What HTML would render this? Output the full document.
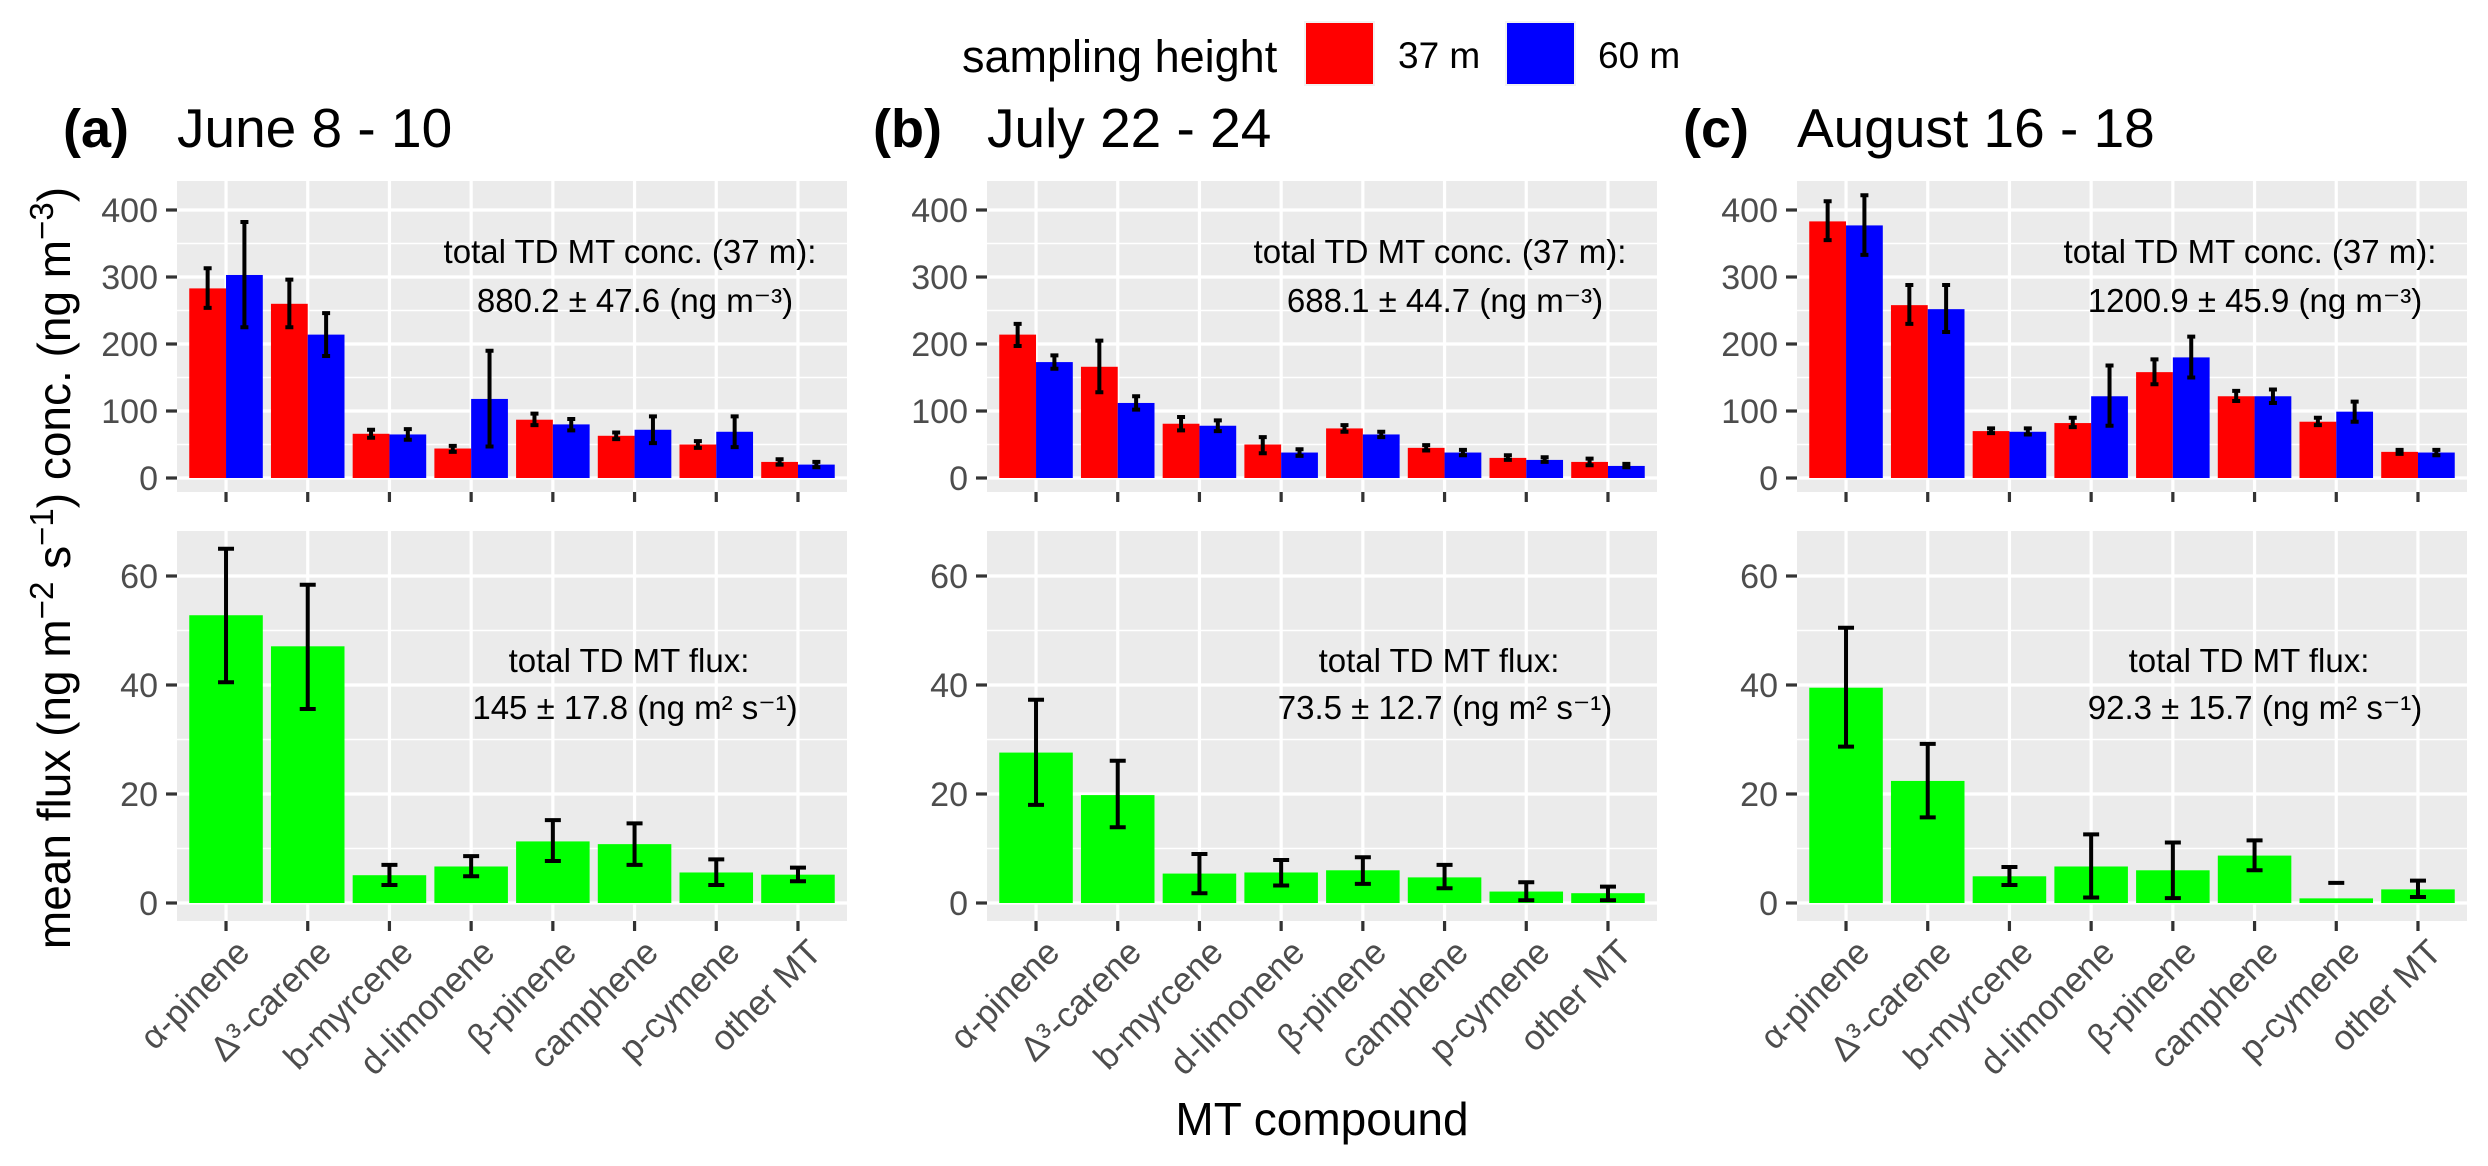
<!DOCTYPE html>
<html><head><meta charset="utf-8"><style>
html,body{margin:0;padding:0;background:#fff}
svg{display:block;font-family:"Liberation Sans",sans-serif}
</style></head><body>
<svg id="chart" width="2488" height="1166" viewBox="0 0 2488 1166" xmlns="http://www.w3.org/2000/svg">
<g id="legend">
<text x="962" y="72" font-size="45">sampling height</text>
<rect x="1305" y="22" width="69" height="63" fill="#FF0000" stroke="#F2F2F2" stroke-width="2"/>
<text x="1398" y="68" font-size="37">37 m</text>
<rect x="1506" y="22" width="69" height="63" fill="#0000FF" stroke="#F2F2F2" stroke-width="2"/>
<text x="1598" y="68" font-size="37">60 m</text>
</g>
<text transform="translate(70,568) rotate(-90)" text-anchor="middle" font-size="46">mean flux (ng m<tspan dy="-17" font-size="33">−2</tspan><tspan dy="17"> s</tspan><tspan dy="-17" font-size="33">−1</tspan><tspan dy="17">) conc. (ng m</tspan><tspan dy="-17" font-size="33">−3</tspan><tspan dy="17">)</tspan></text>
<text x="1322" y="1135" text-anchor="middle" font-size="46">MT compound</text>
</svg>
<script>
const categories = ["α-pinene","Δ³-carene","b-myrcene","d-limonene","β-pinene","camphene","p-cymene","other MT"];
const panelTags = ["(a)","(b)","(c)"];
const panelTitles = ["June 8 - 10","July 22 - 24","August 16 - 18"];
const concTotals = ["880.2 ± 47.6 (ng m⁻³)","688.1 ± 44.7 (ng m⁻³)","1200.9 ± 45.9 (ng m⁻³)"];
const fluxTotals = ["145 ± 17.8 (ng m² s⁻¹)","73.5 ± 12.7 (ng m² s⁻¹)","92.3 ± 15.7 (ng m² s⁻¹)"];
const concTicks = [0,100,200,300,400];
const fluxTicks = [0,20,40,60];
// concentration at 37 m [panel][category]
const conc37 = [[283,260,66,44,87,63,50,24],[214,166,81,50,74,45,30,24],[383,258,70,82,158,122,84,39]];
const conc37Lo = [[254,225,60,39,79,58,45,20],[197,128,71,37,69,41,27,19],[355,230,67,76,140,115,79,36]];
const conc37Hi = [[313,296,72,48,96,68,55,28],[230,205,91,61,79,49,34,29],[413,288,74,90,177,130,90,42]];
// concentration at 60 m
const conc60 = [[303,214,65,118,80,72,69,20],[173,112,78,38,65,38,27,18],[377,252,69,122,180,122,99,38]];
const conc60Lo = [[225,182,57,47,71,52,46,16],[163,102,70,33,61,34,24,16],[333,218,65,78,150,112,84,34]];
const conc60Hi = [[382,246,73,190,88,92,92,24],[183,122,86,43,69,42,31,21],[422,288,74,168,211,132,114,42]];
// flux
const flux = [[52.8,47.1,5.1,6.7,11.3,10.8,5.6,5.2],[27.6,19.8,5.4,5.6,6.0,4.7,2.1,1.8],[39.5,22.4,4.9,6.7,6.0,8.7,0.85,2.5]];
const fluxLo = [[40.5,35.6,3.3,4.9,7.7,7.0,3.3,4.0],[18.0,13.9,1.8,3.2,3.5,2.7,0.5,0.5],[28.7,15.7,3.3,1.0,0.9,6.0,3.7,1.1]];
const fluxHi = [[65.0,58.4,7.0,8.6,15.2,14.6,8.0,6.5],[37.3,26.1,9.0,7.9,8.4,7.0,3.8,3.0],[50.5,29.2,6.6,12.6,11.1,11.5,3.7,4.1]];

const NS = "http://www.w3.org/2000/svg";
const svg = document.getElementById('chart');
function mk(tag, attrs, parent, txt){
  const e = document.createElementNS(NS, tag);
  for (const k in attrs) e.setAttribute(k, attrs[k]);
  if (txt !== undefined) e.textContent = txt;
  (parent||svg).appendChild(e);
  return e;
}
const panelLefts = [177, 987, 1797];
const PW = 670;
const conc = {top:181, bottom:492, y0:478, y1:210, v1:400};
const flx = {top:531, bottom:921, y0:903, y1:576, v1:60};
function yScale(p, v){ return p.y0 + (p.y1 - p.y0) * v / p.v1; }
const n = categories.length;
function xScale(left, i){ const step = PW / (n - 1 + 1.2); return left + step * (0.6 + i); }
const step = PW / (n + 0.2);

for (let p = 0; p < 3; p++) {
  const L = panelLefts[p];
  const g = mk('g', {});
  
  
  const tag = mk('text', {x: L - 114, y: 147, 'font-size': 54, 'font-weight': 'bold'}, g, panelTags[p]);
  
  
  const tt = mk('text', {x: L, y: 147, 'font-size': 55}, g, panelTitles[p]);
  
  

  [[conc, concTicks, 50, 'conc'], [flx, fluxTicks, 10, 'flux']].forEach(([S, ticks, minor, kind]) => {
    const bg = mk('rect', {x: L, y: S.top, width: PW, height: S.bottom - S.top, fill: '#EBEBEB'}, g);
    
    
    ticks.forEach((t) => {
      const my = yScale(S, t + minor);
      if (my > S.top) mk('line', {x1: L, x2: L + PW, y1: my, y2: my, stroke: '#fff', 'stroke-width': 1.6}, g);
      const y = yScale(S, t);
      const gl = mk('line', {x1: L, x2: L + PW, y1: y, y2: y, stroke: '#fff', 'stroke-width': 3.2}, g);
      
      
      mk('line', {x1: L - 11, x2: L, y1: y, y2: y, stroke: '#333', 'stroke-width': 3.2}, g);
      const tl = mk('text', {x: L - 19, y: y + 12, 'font-size': 34, fill: '#4D4D4D', 'text-anchor': 'end'}, g, String(t));
      
      
    });
    for (let i = 0; i < n; i++) {
      const x = xScale(L, i);
      mk('line', {x1: x, x2: x, y1: S.top, y2: S.bottom, stroke: '#fff', 'stroke-width': 3.2}, g);
      mk('line', {x1: x, x2: x, y1: S.bottom, y2: S.bottom + 10, stroke: '#333', 'stroke-width': 3.2}, g);
    }
  });

  const bw = step * 0.9 / 2;
  for (let i = 0; i < n; i++) {
    const xc = xScale(L, i);
    [[conc37, conc37Lo, conc37Hi, '#FF0000', -1, '37m'], [conc60, conc60Lo, conc60Hi, '#0000FF', 1, '60m']].forEach(([V, LO, HI, col, side, lab]) => {
      const v = V[p][i];
      const x0 = side < 0 ? xc - bw : xc;
      const yv = yScale(conc, v), yb = yScale(conc, 0);
      const r = mk('rect', {x: x0, y: yv, width: bw, height: yb - yv, fill: col}, g);
      
      
      const cx = x0 + bw / 2;
      const ylo = yScale(conc, LO[p][i]), yhi = yScale(conc, HI[p][i]);
      const eb = mk('path', {d: `M${cx-4},${yhi}H${cx+4}M${cx},${yhi}V${ylo}M${cx-4},${ylo}H${cx+4}`, stroke: '#000', 'stroke-width': 4, fill: 'none'}, g);
      
      
    });
    const fw = step * 0.9;
    const yv = yScale(flx, flux[p][i]), yb = yScale(flx, 0);
    const fr = mk('rect', {x: xc - fw / 2, y: yv, width: fw, height: yb - yv, fill: '#00FF00'}, g);
    
    
    const ylo = yScale(flx, fluxLo[p][i]), yhi = yScale(flx, fluxHi[p][i]);
    const eb = mk('path', {d: `M${xc-8},${yhi}H${xc+8}M${xc},${yhi}V${ylo}M${xc-8},${ylo}H${xc+8}`, stroke: '#000', 'stroke-width': 4, fill: 'none'}, g);
    
    
    const xl = mk('text', {transform: `translate(${xc + 8},${flx.bottom + 16}) rotate(-45)`, 'font-size': 35, fill: '#4D4D4D', 'text-anchor': 'end', 'dominant-baseline': 'hanging'}, g, categories[i]);
    
    
  }
  const a1 = mk('text', {x: L + 453, y: 263, 'font-size': 33, 'text-anchor': 'middle'}, g, 'total TD MT conc. (37 m):');
  
  
  const a2 = mk('text', {x: L + 458, y: 312, 'font-size': 33, 'text-anchor': 'middle'}, g, concTotals[p]);
  
  
  const a3 = mk('text', {x: L + 452, y: 672, 'font-size': 33, 'text-anchor': 'middle'}, g, 'total TD MT flux:');
  
  
  const a4 = mk('text', {x: L + 458, y: 719, 'font-size': 33, 'text-anchor': 'middle'}, g, fluxTotals[p]);
  
  
}
</script>
</body></html>
